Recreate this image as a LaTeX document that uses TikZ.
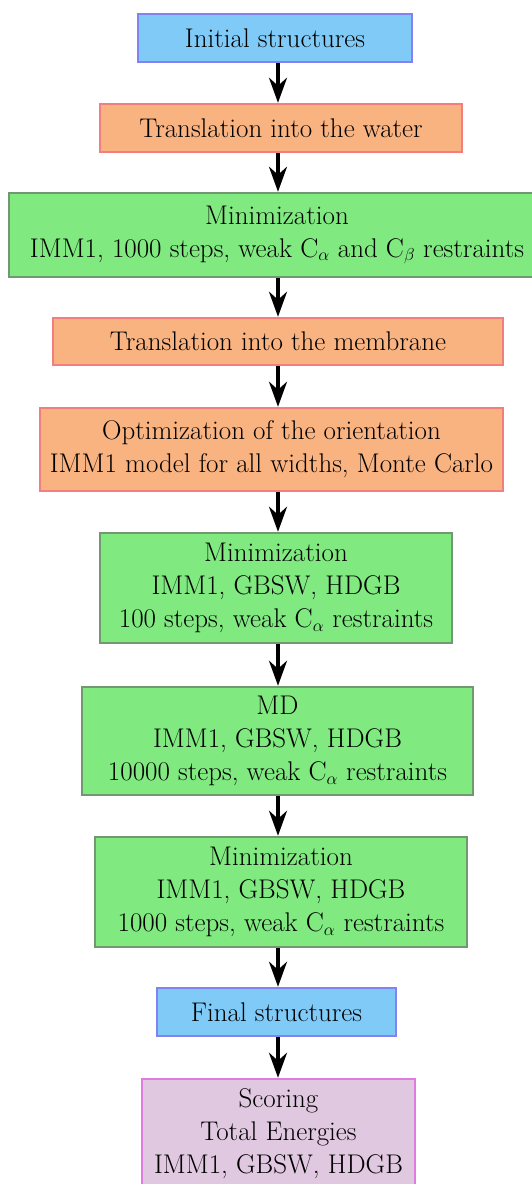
\documentclass[tikz,border=0pt]{standalone}
\usetikzlibrary{arrows.meta}
\definecolor{bluefill}{HTML}{80CAF8}
\definecolor{blueline}{HTML}{8282F5}
\definecolor{orangefill}{HTML}{F8B381}
\definecolor{orangeline}{HTML}{F47E7E}
\definecolor{greenfill}{HTML}{80EA80}
\definecolor{greenline}{HTML}{729872}
\definecolor{purplefill}{HTML}{E1C8E1}
\definecolor{purpleline}{HTML}{E07CE0}
\newcommand\Csub[1]{C$_{#1}$}
\tikzset{
  box/.style={rectangle, line width=2.5pt, inner sep=0pt, align=center,
    font=\fontsize{27}{33}\selectfont, text=black},
  bluebox/.style={box, draw=blueline, fill=bluefill},
  orangebox/.style={box, draw=orangeline, fill=orangefill},
  greenbox/.style={box, draw=greenline, fill=greenfill},
  purplebox/.style={box, draw=purpleline, fill=purplefill},
  arr/.style={line width=3.5pt, -{Stealth[length=25pt,width=18pt,inset=8pt]}}
}
\begin{document}
\begin{tikzpicture}[x=1pt,y=-1pt]
\useasboundingbox (0,0) rectangle (531,1184);
\fill[white] (0,0) rectangle (531,1184);
\node[bluebox, minimum width=274, minimum height=48] (n1) at (275,38) {Initial structures};
\node[orangebox, minimum width=362, minimum height=48] (n2) at (281,128) {Translation into the water};
\node[greenbox, minimum width=536, minimum height=84] (n3) at (277,235)
  {Minimization\\IMM1, 1000 steps, weak \Csub{\alpha} and \Csub{\beta} restraints};
\node[orangebox, minimum width=450, minimum height=47] (n4) at (278,341.5) {Translation into the membrane};
\node[orangebox, minimum width=463, minimum height=83] (n5) at (271.5,449.5)
  {Optimization of the orientation\\IMM1 model for all widths, Monte Carlo};
\node[greenbox, minimum width=352, minimum height=110] (n6) at (276,588)
  {Minimization\\IMM1, GBSW, HDGB\\100 steps, weak \Csub{\alpha} restraints};
\node[greenbox, minimum width=391, minimum height=108] (n7) at (277.5,741)
  {MD\\IMM1, GBSW, HDGB\\10000 steps, weak \Csub{\alpha} restraints};
\node[greenbox, minimum width=372, minimum height=110] (n8) at (281,892)
  {Minimization\\IMM1, GBSW, HDGB\\1000 steps, weak \Csub{\alpha} restraints};
\node[bluebox, minimum width=239, minimum height=48] (n9) at (276.5,1012) {Final structures};
\node[purplebox, minimum width=273, minimum height=110] (n10) at (278.5,1134)
  {Scoring\\Total Energies\\IMM1, GBSW, HDGB};
\coordinate (ax) at (278,0);
\foreach \a/\b in {n1/n2,n2/n3,n3/n4,n4/n5,n5/n6,n6/n7,n7/n8,n8/n9,n9/n10}
  \draw[arr] (\a.south -| ax) -- (\b.north -| ax);
\end{tikzpicture}
\end{document}
